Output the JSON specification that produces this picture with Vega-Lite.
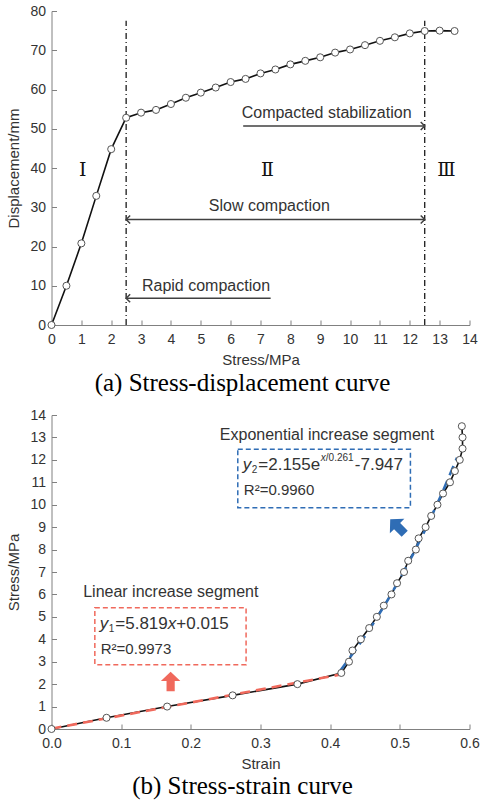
{
  "$schema": "https://vega.github.io/schema/vega-lite/v6.json",
  "background": "white",
  "padding": {"left": 6.5, "top": 4, "right": 0, "bottom": 2},
  "spacing": 12,
  "config": {
    "view": {"stroke": null},
    "axis": {
      "grid": false,
      "domainColor": "#808080",
      "tickColor": "#808080",
      "tickSize": -5,
      "labelFont": "Liberation Sans",
      "labelFontSize": 14,
      "labelColor": "#333333",
      "labelFlush": false,
      "titleFont": "Liberation Sans",
      "titleFontSize": 15,
      "titleFontWeight": "normal",
      "titleColor": "#333333"
    },
    "axisX": {"titlePadding": 6, "labelPadding": 12},
    "axisY": {"titlePadding": 8, "labelPadding": 11},
    "title": {
      "font": "Liberation Serif",
      "fontSize": 25,
      "fontWeight": "normal",
      "color": "#000000",
      "orient": "bottom",
      "anchor": "middle",
      "dx": -18
    }
  },
  "datasets": {
    "curve": [
      {"stress": 0, "displacement": 0, "strain": 0},
      {"stress": 0.5, "displacement": 10.0, "strain": 0.079},
      {"stress": 1.0, "displacement": 20.8, "strain": 0.166},
      {"stress": 1.5, "displacement": 32.9, "strain": 0.260},
      {"stress": 2.0, "displacement": 44.8, "strain": 0.353},
      {"stress": 2.5, "displacement": 52.8, "strain": 0.416},
      {"stress": 3.0, "displacement": 54.1, "strain": 0.427},
      {"stress": 3.5, "displacement": 54.8, "strain": 0.432},
      {"stress": 4.0, "displacement": 56.3, "strain": 0.444},
      {"stress": 4.5, "displacement": 57.9, "strain": 0.456},
      {"stress": 5.0, "displacement": 59.2, "strain": 0.467},
      {"stress": 5.5, "displacement": 60.5, "strain": 0.477},
      {"stress": 6.0, "displacement": 61.9, "strain": 0.488},
      {"stress": 6.5, "displacement": 62.7, "strain": 0.496},
      {"stress": 7.0, "displacement": 64.1, "strain": 0.506},
      {"stress": 7.5, "displacement": 65.1, "strain": 0.512},
      {"stress": 8.0, "displacement": 66.4, "strain": 0.523},
      {"stress": 8.5, "displacement": 67.3, "strain": 0.527},
      {"stress": 9.0, "displacement": 68.2, "strain": 0.537},
      {"stress": 9.5, "displacement": 69.4, "strain": 0.545},
      {"stress": 10.0, "displacement": 70.2, "strain": 0.554},
      {"stress": 10.5, "displacement": 71.3, "strain": 0.562},
      {"stress": 11.0, "displacement": 72.4, "strain": 0.572},
      {"stress": 11.5, "displacement": 73.3, "strain": 0.579},
      {"stress": 12.0, "displacement": 74.3, "strain": 0.586},
      {"stress": 12.5, "displacement": 74.9, "strain": 0.590},
      {"stress": 13.0, "displacement": 75.0, "strain": 0.590},
      {"stress": 13.5, "displacement": 74.9, "strain": 0.589}
    ],
    "phases": [
      {"stress": 2.5, "displacement": 0, "displacement_top": 77.5},
      {"stress": 12.5, "displacement": 0, "displacement_top": 77.5}
    ],
    "stages": [
      {"label": "Ⅰ", "stress": 1.05, "displacement": 39.5},
      {"label": "Ⅱ", "stress": 7.23, "displacement": 39.5},
      {"label": "Ⅲ", "stress": 13.23, "displacement": 39.5}
    ],
    "spans": [
      {"label": "Compacted stabilization", "stress": 6.42, "stress_end": 12.5, "displacement": 50.7, "label_stress": 6.37, "label_displacement": 54.1},
      {"label": "Slow compaction", "stress": 2.5, "stress_end": 12.5, "displacement": 26.9, "label_stress": 5.27, "label_displacement": 30.3},
      {"label": "Rapid compaction", "stress": 2.5, "stress_end": 7.34, "displacement": 6.8, "label_stress": 3.03, "label_displacement": 9.94}
    ],
    "heads": [
      {"points": "right", "stress": 12.5, "displacement": 50.7},
      {"points": "left", "stress": 2.5, "displacement": 26.9},
      {"points": "right", "stress": 12.5, "displacement": 26.9},
      {"points": "left", "stress": 2.5, "displacement": 6.8}
    ],
    "fits": [
      {"segment": "linear", "strain": 0.0, "stress": 0.015},
      {"segment": "linear", "strain": 0.415, "stress": 2.430},
      {"segment": "exponential", "strain": 0.415, "stress": 2.620},
      {"segment": "exponential", "strain": 0.44, "stress": 3.683},
      {"segment": "exponential", "strain": 0.46, "stress": 4.609},
      {"segment": "exponential", "strain": 0.48, "stress": 5.609},
      {"segment": "exponential", "strain": 0.50, "stress": 6.688},
      {"segment": "exponential", "strain": 0.52, "stress": 7.854},
      {"segment": "exponential", "strain": 0.54, "stress": 9.114},
      {"segment": "exponential", "strain": 0.56, "stress": 10.472},
      {"segment": "exponential", "strain": 0.582, "stress": 12.090}
    ],
    "boxes": [
      {"segment": "linear", "strain": 0.0622, "strain_hi": 0.2793, "stress": 2.87, "stress_hi": 5.41},
      {"segment": "exponential", "strain": 0.2674, "strain_hi": 0.5152, "stress": 9.87, "stress_hi": 12.47}
    ],
    "segments": [
      {"label": "Linear increase segment", "strain": 0.0455, "stress": 6.12},
      {"label": "Exponential increase segment", "strain": 0.2416, "stress": 13.09}
    ],
    "equations": [
      {"segment": "linear", "strain": 0.0693, "stress": 4.66, "fit": "R²=0.9973"},
      {"segment": "exponential", "strain": 0.2746, "stress": 11.77, "fit": "R²=0.9960"}
    ],
    "pointers": [
      {"segment": "linear", "strain": 0.171, "stress": 2.12},
      {"segment": "exponential", "strain": 0.4966, "stress": 9.03}
    ]
  },
  "vconcat": [
    {
      "width": 418,
      "height": 314,
      "title": {"text": "(a) Stress-displacement curve", "offset": 4},
      "encoding": {
        "x": {
          "field": "stress",
          "type": "quantitative",
          "scale": {"domain": [0, 14], "nice": false},
          "axis": {"title": "Stress/MPa", "values": [0, 1, 2, 3, 4, 5, 6, 7, 8, 9, 10, 11, 12, 13, 14], "format": "d"}
        },
        "y": {
          "field": "displacement",
          "type": "quantitative",
          "scale": {"domain": [0, 80], "nice": false},
          "axis": {"title": "Displacement/mm", "values": [0, 10, 20, 30, 40, 50, 60, 70, 80], "format": "d"}
        }
      },
      "layer": [
        {
          "data": {"name": "phases"},
          "mark": {"type": "rule", "color": "#1a1a1a", "strokeWidth": 1.3, "strokeDash": [6, 3, 1, 3]},
          "encoding": {"y2": {"field": "displacement_top"}}
        },
        {
          "data": {"name": "curve"},
          "mark": {"type": "line", "color": "#111111", "strokeWidth": 1.6},
          "encoding": {}
        },
        {
          "data": {"name": "curve"},
          "mark": {"type": "point", "shape": "circle", "filled": true, "fill": "white", "stroke": "#555555", "strokeWidth": 1, "size": 50, "opacity": 1}
        },
        {
          "data": {"name": "spans"},
          "mark": {"type": "rule", "color": "#404040", "strokeWidth": 1.5},
          "encoding": {"x2": {"field": "stress_end"}}
        },
        {
          "data": {"name": "heads"},
          "mark": {"type": "point", "filled": false, "stroke": "#404040", "strokeWidth": 1.5, "size": 64, "opacity": 1},
          "encoding": {
            "shape": {
              "field": "points",
              "type": "nominal",
              "scale": {"domain": ["left", "right"], "range": ["M1,-1L0,0L1,1", "M-1,-1L0,0L-1,1"]},
              "legend": null
            }
          }
        },
        {
          "data": {"name": "spans"},
          "mark": {"type": "text", "font": "Liberation Sans", "fontSize": 16, "color": "#333333", "align": "left", "baseline": "middle"},
          "encoding": {
            "x": {"field": "label_stress", "type": "quantitative"},
            "y": {"field": "label_displacement", "type": "quantitative"},
            "text": {"field": "label"}
          }
        },
        {
          "data": {"name": "stages"},
          "mark": {"type": "text", "font": "DejaVu Serif", "fontSize": 19, "color": "#111111", "align": "center", "baseline": "middle"},
          "encoding": {"text": {"field": "label"}}
        }
      ]
    },
    {
      "width": 418,
      "height": 314,
      "title": {"text": "(b) Stress-strain curve", "offset": 3},
      "encoding": {
        "x": {
          "field": "strain",
          "type": "quantitative",
          "scale": {"domain": [0, 0.6], "nice": false},
          "axis": {"title": "Strain", "values": [0, 0.1, 0.2, 0.3, 0.4, 0.5, 0.6], "format": ".1f"}
        },
        "y": {
          "field": "stress",
          "type": "quantitative",
          "scale": {"domain": [0, 14], "nice": false},
          "axis": {"title": "Stress/MPa", "values": [0, 1, 2, 3, 4, 5, 6, 7, 8, 9, 10, 11, 12, 13, 14], "format": "d"}
        }
      },
      "layer": [
        {
          "data": {"name": "curve"},
          "mark": {"type": "line", "color": "#111111", "strokeWidth": 1.6},
          "encoding": {"order": {"field": "stress", "type": "quantitative"}}
        },
        {
          "data": {"name": "fits"},
          "mark": {"type": "line", "strokeWidth": 2.6, "strokeDash": [10, 6]},
          "encoding": {
            "color": {"field": "segment", "type": "nominal", "scale": {"domain": ["linear", "exponential"], "range": ["#f0695c", "#2f6db5"]}, "legend": null}
          }
        },
        {
          "data": {"name": "curve"},
          "mark": {"type": "point", "shape": "circle", "filled": true, "fill": "white", "stroke": "#555555", "strokeWidth": 1, "size": 50, "opacity": 1}
        },
        {
          "data": {"name": "boxes"},
          "mark": {"type": "rect", "filled": false, "strokeWidth": 1.5, "strokeDash": [5, 3]},
          "encoding": {
            "x2": {"field": "strain_hi"},
            "y2": {"field": "stress_hi"},
            "color": {"field": "segment", "type": "nominal", "legend": null}
          }
        },
        {
          "data": {"name": "segments"},
          "mark": {"type": "text", "font": "Liberation Sans", "fontSize": 16, "color": "#333333", "align": "left", "baseline": "middle"},
          "encoding": {"text": {"field": "label"}}
        },
        {
          "data": {"name": "equations"},
          "mark": {"type": "text", "font": "Liberation Sans", "fontSize": 15, "color": "#333333", "align": "left", "baseline": "middle", "dy": 24.5, "dx": 1},
          "encoding": {"text": {"field": "fit"}}
        },
        {
          "data": {"name": "equations"},
          "transform": [{"filter": "datum.segment === 'linear'"}],
          "layer": [
            {"mark": {"type": "text", "font": "Liberation Sans", "fontSize": 17, "fontStyle": "italic", "color": "#333333", "align": "left", "baseline": "middle", "text": "y"}},
            {"mark": {"type": "text", "font": "Liberation Sans", "fontSize": 10, "color": "#333333", "align": "left", "baseline": "middle", "dx": 9, "dy": 5, "text": "1"}},
            {"mark": {"type": "text", "font": "Liberation Sans", "fontSize": 17, "color": "#333333", "align": "left", "baseline": "middle", "dx": 15.5, "text": "=5.819"}},
            {"mark": {"type": "text", "font": "Liberation Sans", "fontSize": 17, "fontStyle": "italic", "color": "#333333", "align": "left", "baseline": "middle", "dx": 68, "text": "x"}},
            {"mark": {"type": "text", "font": "Liberation Sans", "fontSize": 17, "color": "#333333", "align": "left", "baseline": "middle", "dx": 76.5, "text": "+0.015"}}
          ]
        },
        {
          "data": {"name": "equations"},
          "transform": [{"filter": "datum.segment === 'exponential'"}],
          "layer": [
            {"mark": {"type": "text", "font": "Liberation Sans", "fontSize": 17, "fontStyle": "italic", "color": "#333333", "align": "left", "baseline": "middle", "text": "y"}},
            {"mark": {"type": "text", "font": "Liberation Sans", "fontSize": 10, "color": "#333333", "align": "left", "baseline": "middle", "dx": 9, "dy": 5, "text": "2"}},
            {"mark": {"type": "text", "font": "Liberation Sans", "fontSize": 17, "color": "#333333", "align": "left", "baseline": "middle", "dx": 15.5, "text": "=2.155e"}},
            {"mark": {"type": "text", "font": "Liberation Sans", "fontSize": 10, "fontStyle": "italic", "color": "#333333", "align": "left", "baseline": "middle", "dx": 78, "dy": -7, "text": "x"}},
            {"mark": {"type": "text", "font": "Liberation Sans", "fontSize": 10, "color": "#333333", "align": "left", "baseline": "middle", "dx": 83, "dy": -7, "text": "/0.261"}},
            {"mark": {"type": "text", "font": "Liberation Sans", "fontSize": 17, "color": "#333333", "align": "left", "baseline": "middle", "dx": 112, "text": "-7.947"}}
          ]
        },
        {
          "data": {"name": "pointers"},
          "transform": [{"filter": "datum.segment === 'linear'"}],
          "mark": {"type": "point", "filled": true, "opacity": 1, "size": 380, "angle": 0, "shape": "M0,-1L1,-0.05L0.42,-0.05L0.42,1L-0.42,1L-0.42,-0.05L-1,-0.05Z"},
          "encoding": {"color": {"field": "segment", "type": "nominal", "legend": null}}
        },
        {
          "data": {"name": "pointers"},
          "transform": [{"filter": "datum.segment === 'exponential'"}],
          "mark": {"type": "point", "filled": true, "opacity": 1, "size": 420, "angle": -45, "shape": "M0,-1L1,-0.05L0.42,-0.05L0.42,1L-0.42,1L-0.42,-0.05L-1,-0.05Z"},
          "encoding": {"color": {"field": "segment", "type": "nominal", "legend": null}}
        }
      ]
    }
  ]
}
